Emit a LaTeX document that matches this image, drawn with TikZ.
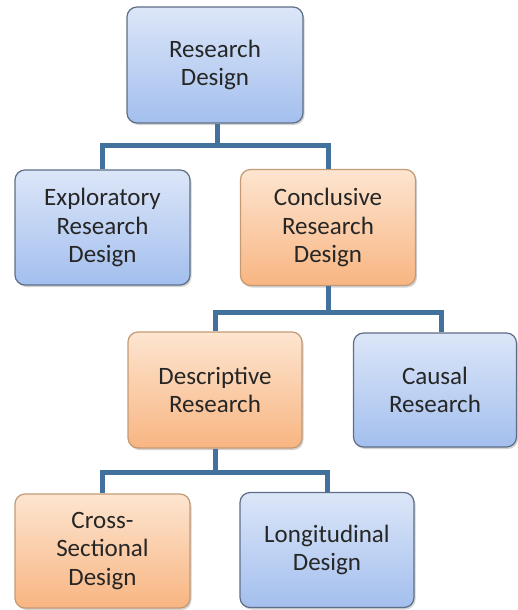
\documentclass[tikz,border=0pt]{standalone}
\usepackage{fontspec}
\setmainfont{Carlito}
\usetikzlibrary{shadows}
\definecolor{bluetop}{HTML}{DCE6F8}
\definecolor{bluebot}{HTML}{A3BFEE}
\definecolor{orgtop}{HTML}{FDE5D0}
\definecolor{orgbot}{HTML}{F8B582}
\definecolor{blueedge}{HTML}{5E6E86}
\definecolor{orgedge}{HTML}{C49A74}
\definecolor{connc}{HTML}{41719C}
\tikzset{
  box/.style={rounded corners=10pt, align=center, font=\fontsize{25}{28.5}\selectfont,
    text=black!85, line width=1.2pt,
    drop shadow={opacity=0.35, shadow xshift=1.5pt, shadow yshift=-2pt}},
  bluebox/.style={box, draw=blueedge, top color=bluetop, bottom color=bluebot},
  orgbox/.style={box, draw=orgedge, top color=orgtop, bottom color=orgbot},
  conn/.style={draw=connc, line width=5pt}
}
\begin{document}
\begin{tikzpicture}[x=1pt,y=-1pt]
\useasboundingbox (0,0) rectangle (518,610);
\coordinate (j1) at (217,145);
\coordinate (j2) at (328,312);
\coordinate (j3) at (215,472);
\node[bluebox, minimum width=176pt, minimum height=116pt] (rd) at (215,65) {Research\\Design};
\node[bluebox, minimum width=175pt, minimum height=115pt] (exp) at (102.5,227.5) {Exploratory\\Research\\Design};
\node[orgbox, minimum width=175pt, minimum height=116pt] (con) at (328,227.5) {Conclusive\\Research\\Design};
\node[orgbox, minimum width=174pt, minimum height=116pt] (des) at (215,390) {Descriptive\\Research};
\node[bluebox, minimum width=163pt, minimum height=114pt] (cau) at (435,390) {Causal\\Research};
\node[orgbox, minimum width=175pt, minimum height=114pt] (cro) at (102.5,551) {Cross-\\Sectional\\Design};
\node[bluebox, minimum width=174pt, minimum height=115pt] (lon) at (327,550) {Longitudinal\\Design};
\draw[conn] ([xshift=2pt]rd.south) -- (j1);
\draw[conn] (exp.north) |- (j1) -| (con.north);
\draw[conn] (con.south) -- (j2);
\draw[conn] (des.north) |- (j2) -| ([xshift=6pt]cau.north);
\draw[conn] (des.south) -- (j3);
\draw[conn] (cro.north) |- (j3) -| (lon.north);
\end{tikzpicture}
\end{document}
